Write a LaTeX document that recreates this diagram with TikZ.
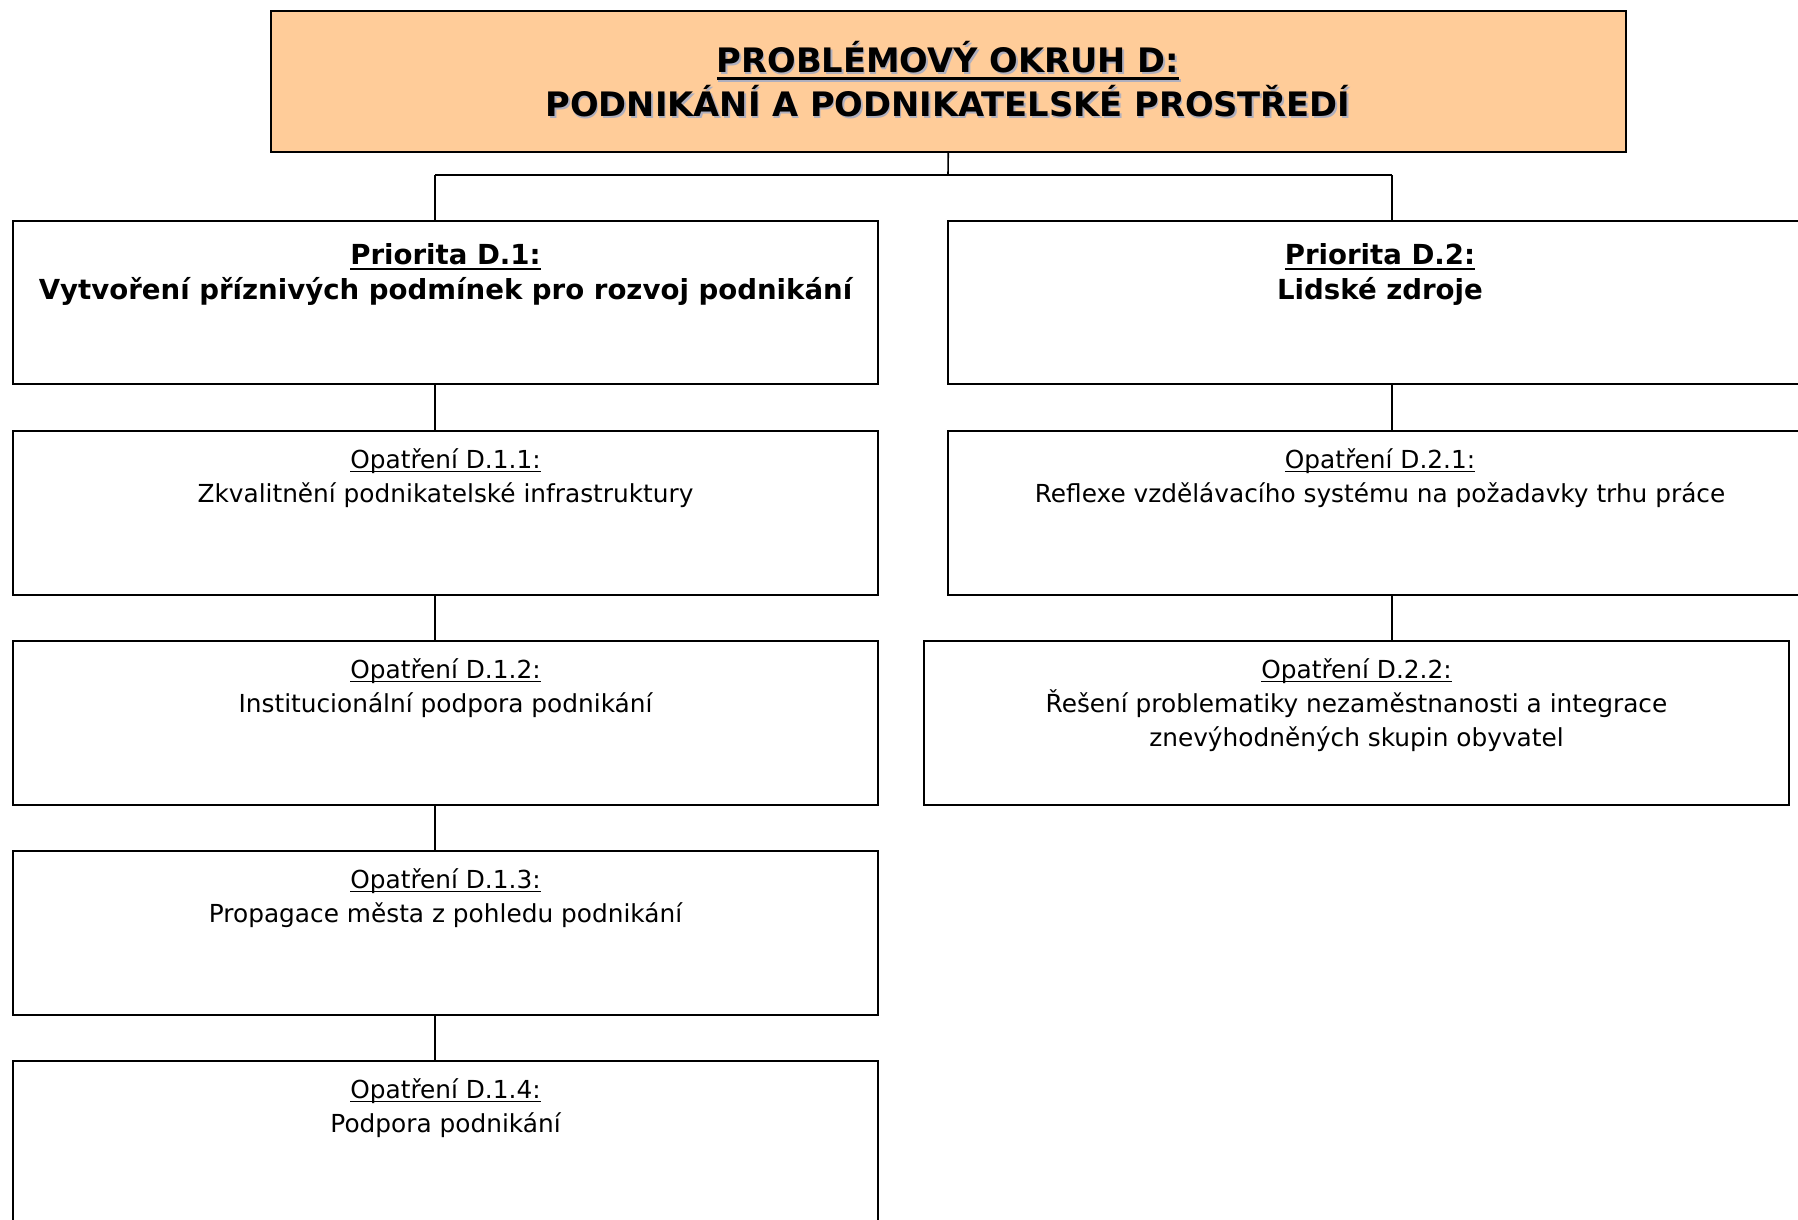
\documentclass[tikz,border=0pt]{standalone}
\usepackage{fontspec}
\setmainfont{DejaVu Sans}
\newfontfamily\bodyfont{DejaVu Sans}
\usetikzlibrary{fit}
\definecolor{peach}{RGB}{255,204,153}
\definecolor{shadowgray}{RGB}{175,175,190}
\newcommand{\ulx}[3]{\setbox0=\hbox{#3}\rlap{\rule[-#1]{\wd0}{#2}}\box0}
\begin{document}
\begin{tikzpicture}[x=0.5pt,y=-0.5pt,
  boxnode/.style={draw,line width=1pt,inner sep=0pt,rectangle},
  conn/.style={draw,line width=0.8pt},
  titletxt/.style={font=\fontsize{16.85pt}{19pt}\selectfont\bfseries,inner sep=0pt,anchor=base},
  priotxt/.style={font=\fontsize{13.8pt}{16pt}\selectfont\bfseries,inner sep=0pt,anchor=base},
  bodytxt/.style={font=\bodyfont\fontsize{12.4pt}{14pt}\selectfont,inner sep=0pt,anchor=base}]
\useasboundingbox (0,0) rectangle (1798,1220);
\clip (0,0) rectangle (1798,1220);
\fill[white] (0,0) rectangle (1798,1220);
% boxes
\node[boxnode,fill=peach,fit={(270.5,11.5)(1626,151.5)}] (top) {};
\node[boxnode,fit={(13,221)(878,384)}] (p1) {};
\node[boxnode,fit={(948,221)(1812,384)}] (p2) {};
\node[boxnode,fit={(13,431)(878,595)}] (o11) {};
\node[boxnode,fit={(13,641)(878,805)}] (o12) {};
\node[boxnode,fit={(13,851)(878,1015)}] (o13) {};
\node[boxnode,fit={(13,1061)(878,1240)}] (o14) {};
\node[boxnode,fit={(948,431)(1812,595)}] (o21) {};
\node[boxnode,fit={(924,641)(1789,805)}] (o22) {};
% connectors
\coordinate (jn) at (948,175);
\coordinate (cl) at (435,175);
\coordinate (cr) at (1392,175);
\draw[conn] (top.south) -- (jn);
\draw[conn] (cl) -- (cr);
\draw[conn] (cl) -- (cl |- p1.north);
\draw[conn] (cr) -- (cr |- p2.north);
\draw[conn] (p1.south -| cl) -- (o11.north -| cl);
\draw[conn] (o11.south -| cl) -- (o12.north -| cl);
\draw[conn] (o12.south -| cl) -- (o13.north -| cl);
\draw[conn] (o13.south -| cl) -- (o14.north -| cl);
\draw[conn] (p2.south -| cr) -- (o21.north -| cr);
\draw[conn] (o21.south -| cr) -- (o22.north -| cr);
% title text with shadow
\node[titletxt,text=shadowgray] (t1s) at (949.5,74.5) {\ulx{3.75pt}{1.5pt}{PROBLÉMOVÝ OKRUH D:}};
\node[titletxt,text=shadowgray] (t2s) at (949.5,118.5) {PODNIKÁNÍ A PODNIKATELSKÉ PROSTŘEDÍ};
\node[titletxt] (t1) at (948,73) {\ulx{3.75pt}{1.5pt}{PROBLÉMOVÝ OKRUH D:}};
\node[titletxt] (t2) at (948,117) {PODNIKÁNÍ A PODNIKATELSKÉ PROSTŘEDÍ};
% priorities
\node[priotxt] (p1a) at (445.5,264) {\ulx{3.1pt}{1.25pt}{Priorita D.1:}};
\node[priotxt] (p1b) at (445.5,299) {Vytvoření příznivých podmínek pro rozvoj podnikání};
\node[priotxt] (p2a) at (1380,264) {\ulx{3.1pt}{1.25pt}{Priorita D.2:}};
\node[priotxt] (p2b) at (1380,299) {Lidské zdroje};
% measures
\node[bodytxt] (o11a) at (445.5,468.5) {\ulx{1.7pt}{0.65pt}{Opatření D.1.1:}};
\node[bodytxt] (o11b) at (445.5,502) {Zkvalitnění podnikatelské infrastruktury};
\node[bodytxt] (o12a) at (445.5,678.5) {\ulx{1.7pt}{0.65pt}{Opatření D.1.2:}};
\node[bodytxt] (o12b) at (445.5,712) {Institucionální podpora podnikání};
\node[bodytxt] (o13a) at (445.5,888.5) {\ulx{1.7pt}{0.65pt}{Opatření D.1.3:}};
\node[bodytxt] (o13b) at (445.5,922) {Propagace města z pohledu podnikání};
\node[bodytxt] (o14a) at (445.5,1098.5) {\ulx{1.7pt}{0.65pt}{Opatření D.1.4:}};
\node[bodytxt] (o14b) at (445.5,1132) {Podpora podnikání};
\node[bodytxt] (o21a) at (1380,468.5) {\ulx{1.7pt}{0.65pt}{Opatření D.2.1:}};
\node[bodytxt] (o21b) at (1380,502) {Reflexe vzdělávacího systému na požadavky trhu práce};
\node[bodytxt] (o22a) at (1356.5,678.5) {\ulx{1.7pt}{0.65pt}{Opatření D.2.2:}};
\node[bodytxt] (o22b) at (1356.5,712) {Řešení problematiky nezaměstnanosti a integrace};
\node[bodytxt] (o22c) at (1356.5,746) {znevýhodněných skupin obyvatel};
\end{tikzpicture}
\end{document}
